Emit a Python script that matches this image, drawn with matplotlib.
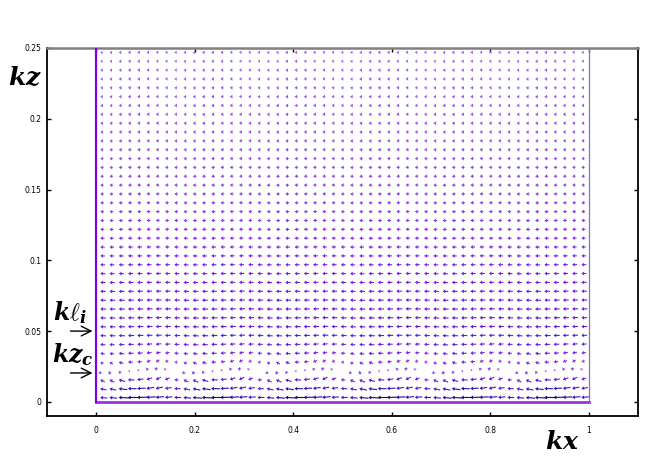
import matplotlib
matplotlib.use("Agg")

import numpy as np
import matplotlib.pyplot as plt
from matplotlib.colors import LinearSegmentedColormap

plt.rcParams['mathtext.fontset'] = 'custom'
plt.rcParams['mathtext.it'] = 'DejaVu Serif:italic:bold'
plt.rcParams['mathtext.rm'] = 'DejaVu Serif:bold'

# grid of the vector field (kx columns, kz rows)
n_cols = 53
n_rows = 40
kx = np.linspace(0.008, 0.985, n_cols)
kz = (np.arange(n_rows) + 0.5) * 0.00625

# leftward drift per row, bottom to top (arrow length, pixels)
drift = [9.0, 7.5, 5.5, 1.0, 4.0, 5.0, 5.5, 6.0, 6.0, 6.0,
         6.0, 5.8, 5.6, 5.4, 5.2, 5.0, 4.8, 4.6, 4.4, 4.2,
         4.0, 3.9, 3.8, 3.7, 3.6, 3.5, 3.4, 3.3, 3.2, 3.1,
         3.0, 3.0, 2.9, 2.9, 2.8, 2.8, 2.7, 2.7, 2.6, 2.6]
# vertical wave amplitude per row
w_amp = [0.8, 1.5, 2.5, 3.5, 2.0, 1.0, 0.6, 0.4, 0.3, 0.3,
         0.2, 0.2, 0.2, 0.15, 0.15, 0.15, 0.1, 0.1, 0.1, 0.1,
         0.1, 0.1, 0.1, 0.1, 0.1, 0.1, 0.1, 0.1, 0.1, 0.1,
         0.1, 0.1, 0.1, 0.1, 0.1, 0.1, 0.1, 0.1, 0.1, 0.1]
# horizontal wave amplitude per row
u_amp = [2.0, 1.2, 1.0, 1.0, 0.8, 0.5, 0.3, 0.2, 0.2, 0.2,
         0.1, 0.1, 0.1, 0.1, 0.1, 0.1, 0.1, 0.1, 0.1, 0.1,
         0.1, 0.1, 0.1, 0.1, 0.1, 0.1, 0.1, 0.1, 0.1, 0.1,
         0.1, 0.1, 0.1, 0.1, 0.1, 0.1, 0.1, 0.1, 0.1, 0.1]
# shape of one wavelength (9 columns) read from the tilted rows
wave_shape = [0.9, 1.0, 0.7, 0.1, -0.3, -0.8, -1.0, -0.7, 0.1]

kl_i = 0.05
kz_c = 0.0204

shape_w = np.resize(wave_shape, n_cols)
shape_u = np.roll(shape_w, 2)

X, Z = np.meshgrid(kx, kz)
U = -(np.array(drift)[:, None] + np.array(u_amp)[:, None] * shape_u[None, :])
W = np.array(w_amp)[:, None] * shape_w[None, :]
mag = np.hypot(U, W)

cmap = LinearSegmentedColormap.from_list(
    'arr', ['#a45ef0', '#7a1fe6', '#4a0cc8', '#14067e'])

fig = plt.figure(figsize=(6.54, 4.61), dpi=100)
ax = fig.add_axes([0.0719, 0.0976, 0.9036, 0.7983])

ax.quiver(X, Z, U, W, mag, cmap=cmap, clim=(2.5, 10),
          angles='uv', scale_units='dots', scale=1, units='dots',
          width=1.1, headwidth=3.6, headlength=2.6, headaxislength=2.4,
          minlength=0.5, pivot='tip', zorder=3)

# domain boundaries
ax.plot([0, 0], [0, 0.25], color='#8000e0', lw=1.6, zorder=4)
ax.plot([0, 1], [0, 0], color='#9a30e0', lw=2.0, zorder=2)
ax.plot([1, 1], [0, 0.25], color='#7878c0', lw=0.9, zorder=2)

ax.set_xlim(-0.1, 1.1)
ax.set_ylim(-0.01, 0.25)
ax.set_xticks([0, 0.2, 0.4, 0.6, 0.8, 1])
ax.set_xticklabels(['0', '0.2', '0.4', '0.6', '0.8', '1'])
ax.set_yticks([0, 0.05, 0.1, 0.15, 0.2, 0.25])
ax.set_yticklabels(['0', '0.05', '0.1', '0.15', '0.2', '0.25'])
ax.tick_params(direction='in', length=3, width=1, labelsize=5.5,
               top=True, right=True, pad=4)
ax.tick_params(axis='x', pad=7)

for side in ['left', 'right', 'bottom']:
    ax.spines[side].set_linewidth(1.3)
    ax.spines[side].set_color('black')
ax.spines['top'].set_linewidth(1.8)
ax.spines['top'].set_color('#808080')

fig.text(0.012, 0.815, r'$kz$', fontsize=18)
fig.text(0.833, 0.025, r'$kx$', fontsize=18)

arrow_props = dict(arrowstyle='->, head_length=0.7, head_width=0.35',
                   color='black', lw=1.0)
ax.annotate('', xy=(-0.002, kl_i), xytext=(-0.058, kl_i),
            arrowprops=arrow_props, annotation_clip=False)
ax.annotate('', xy=(-0.002, kz_c), xytext=(-0.058, kz_c),
            arrowprops=arrow_props, annotation_clip=False)
ax.text(-0.088, 0.058, r'$k\ell_i$', fontsize=17)
ax.text(-0.090, 0.028, r'$kz_c$', fontsize=17)

fig.savefig('out.png', dpi=100)
